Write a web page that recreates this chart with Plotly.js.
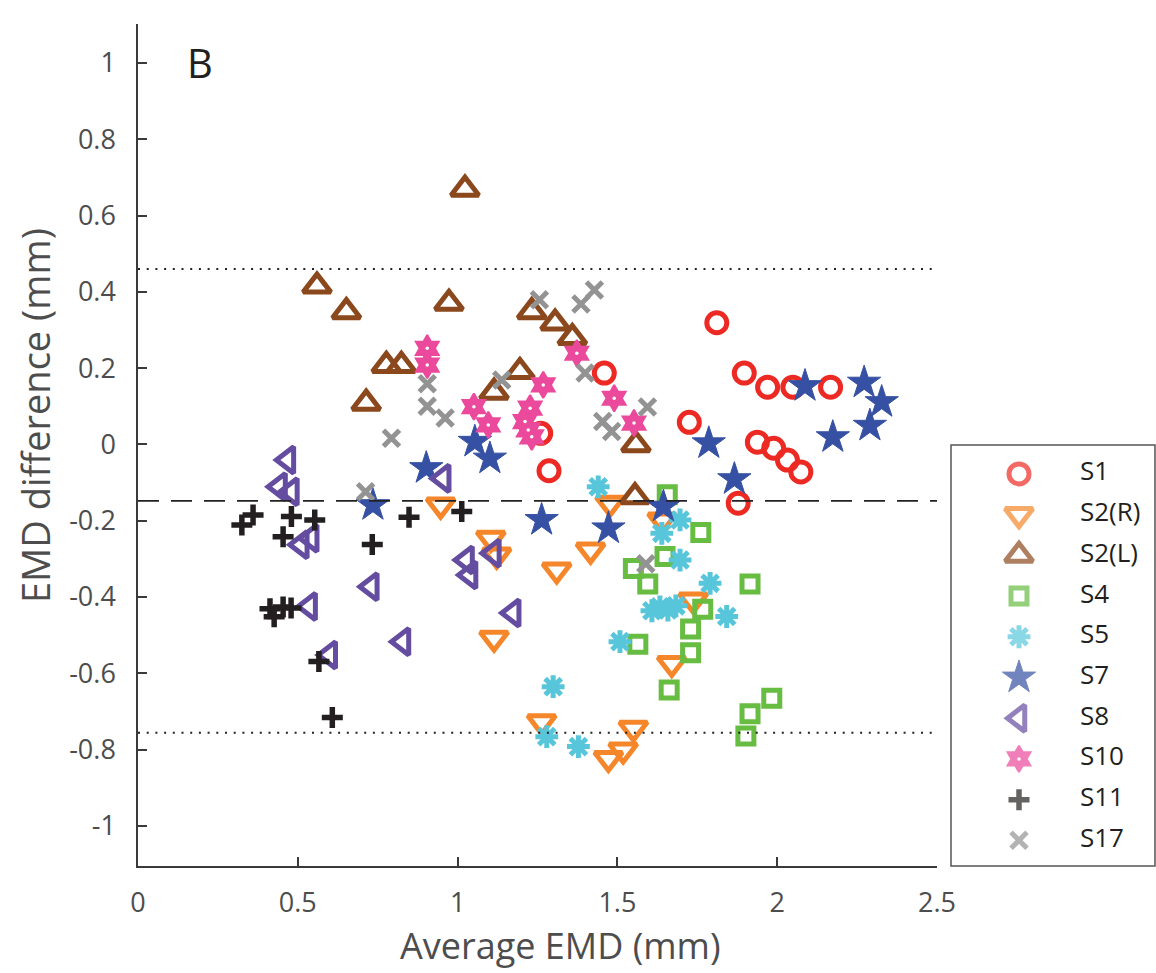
<!DOCTYPE html>
<html><head><meta charset="utf-8">
<script src="https://cdn.plot.ly/plotly-3.0.1.min.js"></script>
<style>html,body{margin:0;padding:0;background:#fff;} #chart{width:1156px;height:973px;}</style>
</head><body><div id="chart"></div>
<script>
// ---------- data ----------
const seriesNames = ['S1','S2(R)','S2(L)','S4','S5','S7','S8','S10','S11','S17'];

const s1X = [1.811,1.897,1.970,2.049,2.167,1.459,1.260,1.286,1.725,1.938,1.989,2.032,2.074,1.878];
const s1Y = [0.319,0.187,0.150,0.150,0.150,0.187,0.029,-0.069,0.058,0.006,-0.010,-0.041,-0.072,-0.154];

const s2rX = [0.947,1.104,1.122,1.310,1.416,1.114,1.477,1.640,1.737,1.670,1.263,1.550,1.518,1.472];
const s2rY = [-0.159,-0.246,-0.290,-0.329,-0.277,-0.508,-0.154,-0.198,-0.408,-0.574,-0.727,-0.744,-0.801,-0.823];

const s2lX = [0.560,0.652,0.714,0.777,0.824,0.973,1.023,1.114,1.195,1.232,1.305,1.359,1.558,1.555];
const s2lY = [0.415,0.348,0.108,0.207,0.207,0.370,0.669,0.137,0.191,0.348,0.318,0.280,-0.001,-0.137];

const s4X = [1.656,1.761,1.649,1.550,1.595,1.915,1.767,1.729,1.564,1.729,1.662,1.983,1.915,1.902];
const s4Y = [-0.132,-0.231,-0.294,-0.325,-0.366,-0.366,-0.432,-0.484,-0.524,-0.546,-0.644,-0.665,-0.706,-0.764];

const s5X = [1.440,1.639,1.696,1.696,1.790,1.608,1.633,1.658,1.683,1.842,1.508,1.299,1.279,1.378];
const s5Y = [-0.111,-0.233,-0.198,-0.303,-0.364,-0.436,-0.426,-0.434,-0.423,-0.451,-0.517,-0.635,-0.766,-0.792];

const s7X = [0.735,0.902,1.054,1.101,1.263,1.472,1.644,1.786,1.866,2.087,2.174,2.272,2.290,2.327];
const s7Y = [-0.159,-0.062,0.007,-0.037,-0.198,-0.220,-0.163,0.003,-0.091,0.153,0.019,0.162,0.049,0.111];

const s8X = [0.469,0.443,0.480,0.511,0.542,0.730,0.537,0.600,0.829,0.955,1.028,1.039,1.112,1.174];
const s8Y = [-0.041,-0.111,-0.124,-0.263,-0.246,-0.373,-0.425,-0.552,-0.517,-0.089,-0.303,-0.342,-0.285,-0.442];

const s10X = [0.905,0.905,1.051,1.096,1.268,1.227,1.211,1.221,1.232,1.373,1.490,1.552];
const s10Y = [0.252,0.208,0.099,0.051,0.156,0.095,0.060,0.038,0.020,0.239,0.121,0.056];

const s11X = [0.325,0.360,0.480,0.553,0.454,0.733,0.848,1.013,0.413,0.426,0.454,0.479,0.566,0.608];
const s11Y = [-0.211,-0.185,-0.189,-0.198,-0.242,-0.262,-0.191,-0.176,-0.431,-0.452,-0.426,-0.429,-0.569,-0.716];

const s17X = [0.712,0.793,0.905,0.905,0.961,1.138,1.256,1.386,1.428,1.399,1.454,1.482,1.594,1.589];
const s17Y = [-0.124,0.016,0.159,0.100,0.069,0.169,0.379,0.368,0.405,0.187,0.060,0.034,0.098,-0.313];

const meanDiff = -0.148;
const upperLoA = 0.46;
const lowerLoA = -0.756;

const xTickVals = [0, 0.5, 1, 1.5, 2, 2.5];
const xTickText = ['0', '0.5', '1', '1.5', '2', '2.5'];
const yTickVals = [-1, -0.8, -0.6, -0.4, -0.2, 0, 0.2, 0.4, 0.6, 0.8, 1];
const yTickText = ['-1', '-0.8', '-0.6', '-0.4', '-0.2', '0', '0.2', '0.4', '0.6', '0.8', '1'];

const panelLabel = 'B';
const xTitle = 'Average EMD (mm)';
const yTitle = 'EMD difference (mm)';

// ---------- styles ----------
const seriesX = [s1X, s2rX, s2lX, s4X, s5X, s7X, s8X, s10X, s11X, s17X];
const seriesY = [s1Y, s2rY, s2lY, s4Y, s5Y, s7Y, s8Y, s10Y, s11Y, s17Y];
const styles = [
  {symbol:'circle-open',        color:'#EC2A23', size:20, lw:5},
  {symbol:'triangle-down-open', color:'#F5862A', size:24, lw:5},
  {symbol:'triangle-up-open',   color:'#8B481C', size:24, lw:5},
  {symbol:'square-open',        color:'#67BC42', size:16, lw:5},
  {symbol:'asterisk-open',      color:'#58C6DA', size:19, lw:5},
  {symbol:'star',               color:'#3651A3', size:25, lw:1},
  {symbol:'triangle-left-open', color:'#644CA0', size:23, lw:5},
  {symbol:'hexagram',           color:'#EB4A9C', size:20, lw:2},
  {symbol:'cross-thin-open',    color:'#231F20', size:15, lw:5.5},
  {symbol:'x-thin-open',        color:'#939393', size:16, lw:5}
];
const dotIdx = seriesNames.indexOf('S10');   // hexagram drawn with a tiny white centre

const traces = [];
seriesNames.forEach((name, i) => {
  traces.push({
    type:'scatter', mode:'markers', name:name,
    x: seriesX[i], y: seriesY[i], xaxis:'x', yaxis:'y',
    marker:{symbol:styles[i].symbol, size:styles[i].size, color:styles[i].color,
            line:{color:styles[i].color, width:styles[i].lw}},
    showlegend:false, hoverinfo:'x+y+name'
  });
  if (i === dotIdx) {
    traces.push({
      type:'scatter', mode:'markers', x: seriesX[i], y: seriesY[i], xaxis:'x', yaxis:'y',
      marker:{symbol:'circle', size:3.5, color:'#ffffff', line:{width:0}},
      showlegend:false, hoverinfo:'skip'
    });
  }
});

// hand-made legend box (second, invisible axes)
const legendIdx = seriesNames.map((n, i) => i);
traces.push({
  type:'scatter', mode:'markers', xaxis:'x2', yaxis:'y2', showlegend:false, hoverinfo:'skip',
  x: legendIdx.map(() => 68), y: legendIdx,
  marker:{symbol:styles.map(s => s.symbol), size:styles.map(s => s.size),
          color:styles.map(s => s.color),
          line:{color:styles.map(s => s.color), width:styles.map(s => s.lw)}}
});
traces.push({
  type:'scatter', mode:'markers', xaxis:'x2', yaxis:'y2', showlegend:false, hoverinfo:'skip',
  x:[68], y:[dotIdx], marker:{symbol:'circle', size:3.5, color:'#ffffff', line:{width:0}}
});
traces.push({
  type:'scatter', mode:'text', xaxis:'x2', yaxis:'y2', showlegend:false, hoverinfo:'skip',
  x: legendIdx.map(() => 129), y: legendIdx, text: seriesNames,
  textposition:'middle right',
  textfont:{family:'Open Sans, sans-serif', size:26, color:'#231F20'}
});

const axisColor = '#3a3a3a';
const tickFont = {family:'Open Sans, sans-serif', size:27, color:'#4d4d4d'};
const plotLeft = 138, plotRight = 937, paperW = 1156 - 138;

const layout = {
  width:1156, height:973,
  margin:{l:138, r:0, t:24, b:107, pad:0},
  paper_bgcolor:'#ffffff', plot_bgcolor:'#ffffff',
  showlegend:false,
  xaxis:{domain:[0, (plotRight - plotLeft) / paperW], range:[0, 2.5], anchor:'y',
         showline:true, linecolor:axisColor, linewidth:1.5, mirror:false,
         ticks:'inside', ticklen:9, tickwidth:1.5, tickcolor:axisColor,
         tickvals:xTickVals, ticktext:xTickText, tickfont:tickFont, ticklabelstandoff:12,
         showgrid:false, zeroline:false},
  yaxis:{domain:[0, 1], range:[-1.105, 1.102], anchor:'x',
         showline:true, linecolor:axisColor, linewidth:1.5, mirror:false,
         ticks:'inside', ticklen:9, tickwidth:1.5, tickcolor:axisColor,
         tickvals:yTickVals, ticktext:yTickText, tickfont:tickFont, ticklabelstandoff:15,
         showgrid:false, zeroline:false},
  xaxis2:{domain:[(951 - plotLeft) / paperW, 1], range:[0, 205], anchor:'y2', visible:false, fixedrange:true},
  yaxis2:{domain:[0, (866 - 445) / 842], range:[9.63, -0.71], anchor:'x2', visible:false, fixedrange:true},
  shapes:[
    {type:'line', xref:'x domain', yref:'y', x0:0, x1:1, y0:upperLoA, y1:upperLoA,
     line:{color:'#222', width:2, dash:'2px,6.7px'}},
    {type:'line', xref:'x domain', yref:'y', x0:0, x1:1, y0:lowerLoA, y1:lowerLoA,
     line:{color:'#222', width:2, dash:'2px,6.7px'}},
    {type:'line', xref:'x domain', yref:'y', x0:0, x1:1, y0:meanDiff, y1:meanDiff,
     line:{color:'#222', width:1.6, dash:'21px,12px'}},
    {type:'rect', xref:'x2 domain', yref:'y2 domain', x0:0, x1:0.995, y0:0, y1:1,
     line:{color:'#555', width:1.5}, fillcolor:'rgba(0,0,0,0)'}
  ],
  annotations:[
    {text:panelLabel, xref:'paper', yref:'paper', x:(200 - plotLeft) / paperW, y:(866 - 62) / 842,
     xanchor:'center', yanchor:'middle', showarrow:false,
     font:{family:'Open Sans, sans-serif', size:40, color:'#231F20'}},
    {text:xTitle, xref:'paper', yref:'paper', x:(560 - plotLeft) / paperW, y:(866 - 971) / 842,
     xanchor:'center', yanchor:'bottom', showarrow:false, borderpad:0,
     font:{family:'Open Sans, sans-serif', size:36, color:'#4d4d4d'}},
    {text:yTitle, xref:'paper', yref:'paper', x:(35 - plotLeft) / paperW, y:(866 - 416) / 842,
     xanchor:'center', yanchor:'middle', showarrow:false, textangle:-90,
     font:{family:'Open Sans, sans-serif', size:38, color:'#4d4d4d'}}
  ]
};

Plotly.newPlot('chart', traces, layout, {displayModeBar:false});
</script>
</body></html>
